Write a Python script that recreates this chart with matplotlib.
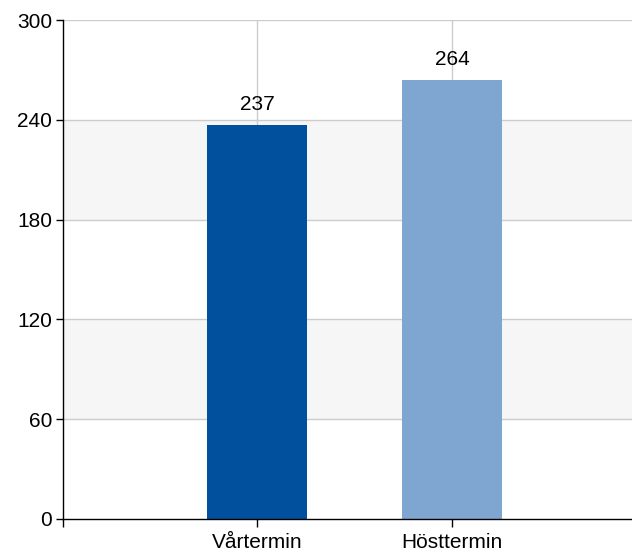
import numpy as np
import matplotlib.pyplot as plt

plt.rcParams['font.family'] = ['Liberation Sans', 'DejaVu Sans']

# ---------------------------
# Data
# ---------------------------
categories = ["Vårtermin", "Hösttermin"]
values = [237, 264]
colors = ["#00509e", "#7fa6d0"]
y_ticks = [0, 60, 120, 180, 240, 300]

# ---------------------------
# Plot
# ---------------------------
fig = plt.figure(figsize=(6.32, 5.53), dpi=100)
ax = fig.add_axes([63 / 632, 34 / 553, 569 / 632, 499 / 553])

x = np.arange(len(categories))

# alternating bands
for lo, hi in [(60, 120), (180, 240)]:
    ax.axhspan(lo, hi, color="#f6f6f6", zorder=0, lw=0)
for t in y_ticks[1:]:
    ax.axhline(t, color="#cccccc", lw=1, zorder=1)
for xi in x:
    ax.axvline(xi, color="#cccccc", lw=1, zorder=1)

bars = ax.bar(x, values, width=0.51, color=colors, zorder=2)
for xi, v in zip(x, values):
    ax.annotate(str(v), (xi, v), xytext=(0, 8), textcoords="offset points",
                ha="center", va="bottom", fontsize=15)

ax.set_xlim(-0.995, 1.923)
ax.set_ylim(0, 300)
ax.set_yticks(y_ticks)
ax.set_xticks([-0.995, 0, 1])
ax.set_xticklabels(["", categories[0], categories[1]])
ax.tick_params(axis="both", labelsize=15, length=5, width=1, color="black")
ax.tick_params(axis="x", length=6, pad=4)
ax.tick_params(axis="y", pad=3)

for s in ["top", "right"]:
    ax.spines[s].set_visible(False)
ax.spines["left"].set_linewidth(1)
ax.spines["bottom"].set_linewidth(1)

plt.savefig("out.png", dpi=100)
